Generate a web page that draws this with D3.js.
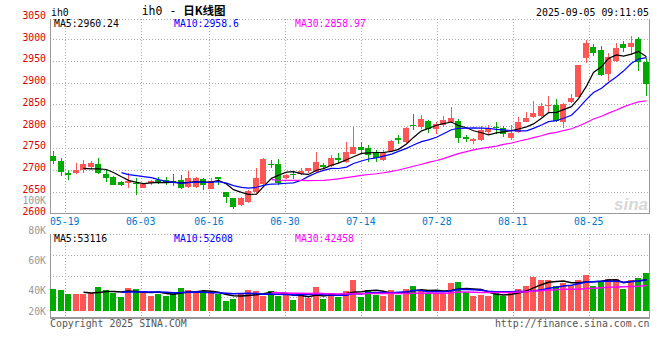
<!DOCTYPE html>
<html><head><meta charset="utf-8">
<script src="https://cdn.jsdelivr.net/npm/d3@7"></script>
<style>body{margin:0;background:#fff}svg{display:block}</style>
</head><body>
<svg id="c" width="660" height="360"></svg>
<script>
const dates = ["05-15","05-16","05-19","05-20","05-21","05-22","05-23","05-26","05-27","05-28","05-29","05-30",
"06-03","06-04","06-05","06-06","06-09","06-10","06-11","06-12","06-13","06-16","06-17","06-18","06-19","06-20",
"06-23","06-24","06-25","06-26","06-27","06-30","07-01","07-02","07-03","07-04","07-07","07-08","07-09","07-10","07-11",
"07-14","07-15","07-16","07-17","07-18","07-21","07-22","07-23","07-24","07-25","07-28","07-29","07-30","07-31","08-01",
"08-04","08-05","08-06","08-07","08-08","08-11","08-12","08-13","08-14","08-15","08-18","08-19","08-20","08-21","08-22",
"08-25","08-26","08-27","08-28","08-29","09-01","09-02","09-03","09-04"];
const open  = [2731,2720,2692,2693,2699,2707,2714,2690,2683,2673,2670,2670,2659,2669,2676,2676,2674,2676,2661,2661,
               2678,2656,2683,2650,2634,2620,2627,2650,2668,2713,2713,2680,2690,2690,2698,2695,2711,2708,2726,2718,
               2736,2752,2750,2738,2722,2743,2774,2764,2802,2797,2812,2794,2803,2810,2812,2776,2765,2768,2787,2798,
               2795,2772,2787,2810,2822,2823,2846,2849,2810,2856,2868,2957,2981,2976,2920,2950,2989,2982,3000,2948];
const high  = [2743,2726,2699,2715,2722,2721,2726,2699,2686,2675,2692,2680,2670,2677,2684,2684,2690,2688,2697,2684,
               2682,2680,2684,2650,2634,2638,2653,2703,2727,2722,2725,2691,2695,2703,2705,2741,2716,2734,2739,2764,
               2799,2764,2757,2745,2745,2768,2780,2798,2828,2825,2814,2810,2823,2845,2816,2780,2774,2800,2802,2810,
               2800,2802,2820,2833,2858,2854,2869,2862,2853,2874,2940,2997,2988,2984,2967,2992,2996,3007,3005,2956];
const low   = [2714,2686,2676,2690,2693,2702,2690,2672,2664,2662,2659,2642,2657,2664,2667,2664,2663,2655,2659,2657,
               2653,2655,2664,2624,2611,2617,2624,2646,2662,2703,2665,2678,2678,2688,2693,2692,2704,2706,2716,2715,
               2736,2736,2717,2718,2720,2741,2759,2762,2791,2794,2784,2782,2799,2807,2761,2764,2760,2766,2783,2783,
               2776,2768,2785,2809,2818,2822,2830,2810,2795,2854,2866,2946,2961,2915,2904,2948,2971,2963,2927,2869];
const close = [2720,2694,2688,2699,2714,2716,2692,2682,2665,2664,2675,2669,2667,2674,2671,2672,2673,2659,2680,2680,
               2665,2675,2679,2637,2615,2634,2652,2681,2724,2710,2670,2688,2687,2698,2703,2718,2707,2726,2722,2741,
               2753,2745,2733,2726,2741,2766,2768,2795,2801,2816,2794,2805,2814,2819,2774,2770,2771,2791,2795,2796,
               2782,2785,2810,2819,2830,2847,2849,2813,2851,2864,2940,2992,2969,2917,2960,2980,2979,2992,2948,2898];
const volume = [37300,35600,28800,28800,28800,30500,40700,35600,29900,23700,39000,37300,29900,26000,28800,26000,32200,39000,35600,29900,
                33900,29900,28800,17000,20300,30500,35600,33900,26000,33900,26000,28800,18600,24900,22000,40700,20300,28800,23200,34500,
                53100,23700,36200,27700,26000,36200,27700,37900,42900,36200,28800,30500,30500,47500,49200,32200,26000,26600,26000,30500,
                26000,32200,37300,42900,57600,53100,53100,42900,47500,42900,53100,61600,42900,51400,54200,54200,37300,53100,55900,64400];
const priceTicks = [2600,2650,2700,2750,2800,2850,2900,2950,3000,3050];
const volTicks = [20000,40000,60000,80000,100000];
const dateTicks = ["05-19","06-03","06-16","06-30","07-14","07-28","08-11","08-25"];
const maPeriods = [5,10,30];
const priceMALabels = ["MA5:2960.24","MA10:2958.6","MA30:2858.97"];
const volMALabels = ["MA5:53116","MA10:52608","MA30:42458"];

const n = dates.length;
const svg = d3.select("#c");
const FONT = "'DejaVu Sans Mono', monospace";
const L = 50, R = 650, mainTop = 19, mainBot = 213.5, volTop = 234, volBot = 318;
const gridColor = "#aaa", axisColor = "#999";
const upColor = "#ff5555", downColor = "#00aa00";
const maColors = ["#000000", "#0000ff", "#ff00ff"];

const x = d3.scaleBand().domain(d3.range(n)).range([49.5, 649.5]);
const gx = d3.scaleLinear().domain([0, n - 1]).range([L, R]);
const y = d3.scaleLinear().domain([2600, 3050]).range([213.3, 17.3]);
const yv = d3.scaleLinear().domain([0, 130500]).range([311, volTop]);
const yvLabel = d3.scaleLinear().domain([20000, 100000]).range([320, 200]);
const cx = i => Math.round(x(i) + x.bandwidth() / 2) + 0.5;

function ma(arr, p) {
  return arr.map((d, i) => i < p - 1 ? null : d3.mean(arr.slice(i - p + 1, i + 1)));
}

const g = svg.append("g");
const dotted = sel => sel.attr("stroke", gridColor).attr("stroke-dasharray", "1,2").attr("shape-rendering", "crispEdges");
// ---- grids main
const hg = priceTicks.filter(t => t > 2600 && t < 3050);
g.selectAll(".hg").data(hg).join("line")
  .attr("x1", L).attr("x2", R).attr("y1", d => Math.round(y(d)) + 0.5).attr("y2", d => Math.round(y(d)) + 0.5)
  .call(dotted);
const tickIdx = dateTicks.map(d => dates.indexOf(d));
g.selectAll(".vg").data(tickIdx).join("line")
  .attr("x1", d => Math.round(gx(d)) + 0.5).attr("x2", d => Math.round(gx(d)) + 0.5)
  .attr("y1", mainTop).attr("y2", mainBot).call(dotted);
g.selectAll(".vg2").data(tickIdx).join("line")
  .attr("x1", d => Math.round(gx(d)) + 0.5).attr("x2", d => Math.round(gx(d)) + 0.5)
  .attr("y1", volTop).attr("y2", volBot + 3).call(dotted);
g.append("line").attr("x1", L).attr("x2", R).attr("y1", mainTop + 0.5).attr("y2", mainTop + 0.5).call(dotted);
const vgLines = d3.range(0, 4).map(k => volTop + k * (volBot - volTop) / 4);
g.selectAll(".vh").data(vgLines).join("line")
  .attr("x1", L).attr("x2", R).attr("y1", d => Math.round(d) + 0.5).attr("y2", d => Math.round(d) + 0.5)
  .call(dotted);

// axes frame
const frame = [[L + 0.5, mainTop, L + 0.5, mainBot], [R - 0.5, mainTop, R - 0.5, mainBot], [L, mainBot, R, mainBot],
               [L + 0.5, volTop, L + 0.5, volBot], [R - 0.5, volTop, R - 0.5, volBot], [L, volBot, R, volBot]];
g.selectAll(".fr").data(frame).join("line")
  .attr("x1", d => d[0]).attr("y1", d => d[1]).attr("x2", d => d[2]).attr("y2", d => d[3])
  .attr("stroke", axisColor).attr("stroke-width", 1.5).attr("shape-rendering", "crispEdges");

// watermark
g.append("text").attr("x", 648).attr("y", 210).attr("text-anchor", "end")
  .attr("font-family", "'Liberation Sans', Arial, sans-serif").attr("font-size", 17).attr("font-weight", "bold")
  .attr("font-style", "italic").attr("fill", "#d8d8d8").text("sina");

// candles
const idx = d3.range(n);
const isUp = i => close[i] >= open[i];
const cg = g.append("g").attr("shape-rendering", "crispEdges");
cg.selectAll(".wk").data(idx).join("line")
  .attr("x1", cx).attr("x2", cx).attr("y1", i => y(high[i])).attr("y2", i => y(low[i]))
  .attr("stroke", i => isUp(i) ? upColor : downColor);
cg.selectAll(".bd").data(idx).join("rect")
  .attr("x", i => cx(i) - 3.5).attr("width", 6)
  .attr("y", i => y(Math.max(open[i], close[i])))
  .attr("height", i => Math.max(1, Math.abs(y(open[i]) - y(close[i]))))
  .attr("fill", i => isUp(i) ? upColor : downColor);

// price MAs
maPeriods.forEach((p, k) => {
  const m = ma(close, p);
  const line = d3.line().defined(d => d != null).x((d, i) => cx(i)).y(d => y(d));
  g.append("path").attr("d", line(m)).attr("fill", "none").attr("stroke", maColors[k]).attr("stroke-width", 1.2);
});

// volume bars
const vb = g.append("g").attr("shape-rendering", "crispEdges");
vb.selectAll(".vb").data(idx).join("rect")
  .attr("x", i => cx(i) - 3.5).attr("width", 6)
  .attr("y", i => yv(volume[i])).attr("height", i => yv(0) - yv(volume[i]))
  .attr("fill", i => isUp(i) ? upColor : downColor);
maPeriods.forEach((p, k) => {
  const m = ma(volume, p);
  const line = d3.line().defined(d => d != null).x((d, i) => cx(i)).y(d => yv(d));
  g.append("path").attr("d", line(m)).attr("fill", "none").attr("stroke", maColors[k]).attr("stroke-width", 1.5);
});

// price axis labels
g.selectAll(".pl").data(priceTicks).join("text")
  .attr("x", 46).attr("y", d => y(d) + 1.5).attr("text-anchor", "end")
  .attr("font-family", FONT).attr("font-size", 9.8).attr("fill", "#e00000").text(d => d);
// volume axis labels (Sina clamps the lowest label to the bar baseline)
g.selectAll(".vl").data(volTicks).join("text")
  .attr("x", 46).attr("y", d => Math.min(yvLabel(d), yv(0)) + 3.5).attr("text-anchor", "end")
  .attr("font-family", FONT).attr("font-size", 9.8).attr("fill", "#999").text(d => (d / 1000) + "K");
// date labels
g.selectAll(".dl").data(tickIdx).join("text")
  .attr("x", d => gx(d) - 0.5).attr("y", 225).attr("text-anchor", "middle")
  .attr("font-family", FONT).attr("font-size", 9.8).attr("fill", "#0078d0").text((d, i) => dateTicks[i]);

// MA header labels
const hx = [54, 174, 295];
priceMALabels.forEach((t, k) => {
  g.append("text").attr("x", hx[k]).attr("y", 27.3).attr("font-family", FONT).attr("font-size", 9.8)
    .attr("fill", maColors[k]).text(t);
});
volMALabels.forEach((t, k) => {
  g.append("text").attr("x", hx[k]).attr("y", 241.5).attr("font-family", FONT).attr("font-size", 9.8)
    .attr("fill", maColors[k]).text(t);
});

// titles
g.append("text").attr("x", 51).attr("y", 15.5).attr("font-family", FONT).attr("font-size", 9.8).attr("fill", "#000").text("ih0");
const tt = g.append("text").attr("x", 141.7).attr("y", 15).attr("font-size", 11.5).attr("fill", "#000");
tt.append("tspan").attr("font-family", FONT).text("ih0 - ");
tt.append("tspan").attr("font-family", "'Noto Sans CJK SC', sans-serif").attr("font-weight", "bold").text("日K线图");
g.append("text").attr("x", 649).attr("y", 15.5).attr("text-anchor", "end").attr("font-family", FONT)
  .attr("font-size", 9.9).attr("fill", "#000").text("2025-09-05 09:11:05");
g.append("text").attr("x", 50).attr("y", 326.5).attr("font-family", FONT).attr("font-size", 9.9)
  .attr("fill", "#555").text("Copyright 2025 SINA.COM");
g.append("text").attr("x", 649.5).attr("y", 327).attr("text-anchor", "end").attr("font-family", FONT)
  .attr("font-size", 9.9).attr("fill", "#555").text("http://finance.sina.com.cn");
</script>
</body></html>
